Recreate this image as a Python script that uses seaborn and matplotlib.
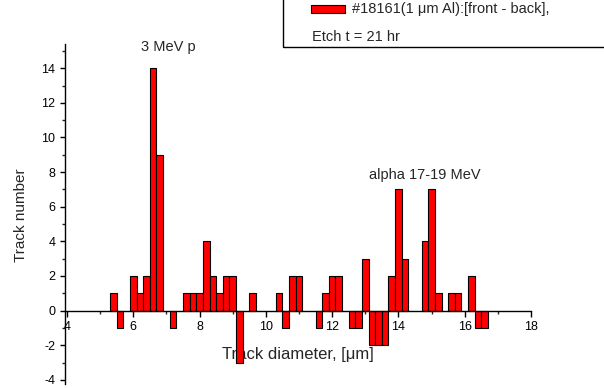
import numpy as np
import pandas as pd
import matplotlib
matplotlib.use("Agg")
import matplotlib.pyplot as plt
from matplotlib.patches import Rectangle
from matplotlib.ticker import MultipleLocator
import seaborn as sns

# ---- data ----
diameters = [5.4, 5.6, 6.0, 6.2, 6.4, 6.6, 6.8, 7.2, 7.6, 7.8, 8.0, 8.2, 8.4, 8.6, 8.8,
             9.0, 9.2, 9.6, 10.4, 10.6, 10.8, 11.0, 11.6, 11.8, 12.0, 12.2, 12.6, 12.8,
             13.0, 13.2, 13.4, 13.6, 13.8, 14.0, 14.2, 14.8, 15.0, 15.2, 15.6, 15.8,
             16.2, 16.4, 16.6]
counts = [1, -1, 2, 1, 2, 14, 9, -1, 1, 1, 1, 4, 2, 1, 2,
          2, -3, 1, 1, -1, 2, 2, -1, 1, 2, 2, -1, -1,
          3, -2, -2, -2, 2, 7, 3, 4, 7, 1, 1, 1,
          2, -1, -1]
x_ticks = [4, 6, 8, 10, 12, 14, 16, 18]
y_ticks = [-4, -2, 0, 2, 4, 6, 8, 10, 12, 14]
legend_line1 = "#18161(1 \u03bcm Al):[front - back],"
legend_line2 = "Etch t = 21 hr"
x_label = "Track diameter, [\u03bcm]"
y_label = "Track number"
ann1 = "3 MeV p"
ann2 = "alpha 17-19 MeV"

df = pd.DataFrame({"d": diameters, "n": counts})

sns.set_style("ticks")
plt.rcParams["font.family"] = ["Liberation Sans", "DejaVu Sans"]

fig = plt.figure(figsize=(6.04, 3.88), dpi=100)
ax = fig.add_axes([65 / 604, 4 / 388, 466 / 604, 340 / 388])

sns.barplot(data=df, x="d", y="n", native_scale=True, width=1.0, color="#ff0000",
            saturation=1, edgecolor="black", linewidth=0.8, errorbar=None, ax=ax)

ax.set_xlim(3.94, 18.0)
ax.set_ylim(-4.24, 15.4)

for s in ["top", "right"]:
    ax.spines[s].set_visible(False)
ax.spines["bottom"].set_position(("data", 0))
for s in ["left", "bottom"]:
    ax.spines[s].set_color("black")
    ax.spines[s].set_linewidth(1.0)

ax.set_xticks(x_ticks)
ax.set_xticklabels([str(t) for t in x_ticks])
ax.set_yticks(y_ticks)
ax.set_yticklabels([str(t) for t in y_ticks])
ax.xaxis.set_minor_locator(MultipleLocator(1))
ax.yaxis.set_minor_locator(MultipleLocator(1))
ax.tick_params(axis="x", which="major", direction="out", length=4.3, width=1, pad=3.5,
               labelsize=9, colors="black")
ax.tick_params(axis="x", which="minor", direction="out", length=2.4, width=1)
ax.tick_params(axis="y", which="major", direction="out", length=3.5, width=1, pad=3.5,
               labelsize=9, colors="black")
ax.tick_params(axis="y", which="minor", direction="out", length=2.2, width=1)

ax.set_xlabel(x_label, fontsize=12)
ax.xaxis.set_label_coords(0.5, 0.11)
ax.set_ylabel(y_label, fontsize=11)
ax.yaxis.set_label_coords(-0.079, 0.497)

ax.text(7.07, 15.2, ann1, fontsize=10.5, ha="center", va="center")
ax.text(14.79, 7.84, ann2, fontsize=10.5, ha="center", va="center")

# legend box
fig.add_artist(Rectangle((283 / 604, (388 - 46.7) / 388), 0.7, 0.3,
                         transform=fig.transFigure, fill=False, edgecolor="black",
                         linewidth=1.0, clip_on=False))
fig.add_artist(Rectangle((310.7 / 604, (388 - 13.3) / 388), 34.3 / 604, 8.3 / 388,
                         transform=fig.transFigure, facecolor="#ff0000",
                         edgecolor="black", linewidth=0.8))
fig.text(351.7 / 604, (388 - 13.3) / 388, legend_line1, fontsize=10.5,
         ha="left", va="baseline")
fig.text(311.7 / 604, (388 - 40.7) / 388, legend_line2, fontsize=10.5,
         ha="left", va="baseline")

fig.savefig("out.png", dpi=100)
